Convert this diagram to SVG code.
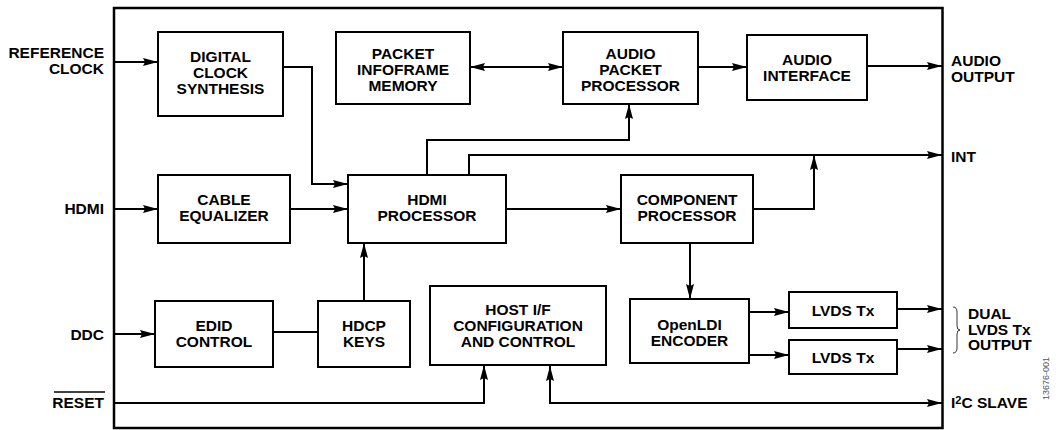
<svg xmlns="http://www.w3.org/2000/svg" width="1059" height="430" viewBox="0 0 1059 430">
<style>
text{font-family:"Liberation Sans",Arial,sans-serif;font-weight:bold;font-size:15.5px;fill:#000}
.c{text-anchor:middle}
.r{text-anchor:end}
.box{fill:#fff;stroke:#000;stroke-width:2}
.ln{fill:none;stroke:#000;stroke-width:2}
.a{marker-end:url(#ah)}
.id{font-weight:normal;font-size:9px;fill:#555}
</style>
<defs>
<marker id="ah" markerWidth="16" markerHeight="10" refX="15" refY="5" orient="auto" markerUnits="userSpaceOnUse"><path d="M0,1 L15,5 L0,9 L2,5 Z" fill="#000"/></marker>
<marker id="as" markerWidth="16" markerHeight="10" refX="1" refY="5" orient="auto" markerUnits="userSpaceOnUse"><path d="M16,1 L1,5 L16,9 L14,5 Z" fill="#000"/></marker>
</defs>
<rect x="0" y="0" width="1059" height="430" fill="#fff"/>
<rect id="frame" x="114" y="8" width="828.5" height="420" fill="none" stroke="#000" stroke-width="2.5"/>

<g id="connectors">
<path class="ln a" d="M114,62 H158"/>
<path class="ln a" d="M114,209 H158"/>
<path class="ln a" d="M114,334 H155"/>
<path class="ln a" d="M283,67 H312 V184 H348"/>
<path class="ln a" d="M290,209 H348"/>
<path class="ln a" marker-start="url(#as)" d="M470,67 H563"/>
<path class="ln a" d="M698,67 H747"/>
<path class="ln a" d="M867,66 H942"/>
<path class="ln a" d="M427,175 V140 H629 V104"/>
<path class="ln a" d="M469,175 V155 H942"/>
<path class="ln a" d="M506,209 H621"/>
<path class="ln a" d="M753,209 H814 V155"/>
<path class="ln a" d="M690,243 V299"/>
<path class="ln a" d="M749,312 H789"/>
<path class="ln a" d="M749,355 H789"/>
<path class="ln a" d="M897,309 H942"/>
<path class="ln a" d="M897,349 H942"/>
<path class="ln" d="M273,332 H318"/>
<path class="ln a" d="M364,301 V243"/>
<path class="ln a" d="M114,403 H484 V365"/>
<path class="ln a" marker-start="url(#as)" d="M550,366 V403 H942"/>
</g>

<g id="dcs"><rect class="box" x="158" y="32" width="125" height="84"/>
<text class="c" x="220.5" y="62">DIGITAL</text><text class="c" x="220.5" y="78">CLOCK</text><text class="c" x="220.5" y="94">SYNTHESIS</text></g>

<g id="pim"><rect class="box" x="336" y="32" width="134" height="72"/>
<text class="c" x="403" y="59">PACKET</text><text class="c" x="403" y="75">INFOFRAME</text><text class="c" x="403" y="91">MEMORY</text></g>

<g id="app"><rect class="box" x="563" y="32" width="135" height="72"/>
<text class="c" x="630.5" y="59">AUDIO</text><text class="c" x="630.5" y="75">PACKET</text><text class="c" x="630.5" y="91">PROCESSOR</text></g>

<g id="ai"><rect class="box" x="747" y="35" width="120" height="65"/>
<text class="c" x="807" y="65">AUDIO</text><text class="c" x="807" y="81">INTERFACE</text></g>

<g id="ce"><rect class="box" x="158" y="175" width="132" height="68"/>
<text class="c" x="224" y="205">CABLE</text><text class="c" x="224" y="221">EQUALIZER</text></g>

<g id="hdmi"><rect class="box" x="348" y="175" width="158" height="68"/>
<text class="c" x="427" y="205">HDMI</text><text class="c" x="427" y="221">PROCESSOR</text></g>

<g id="cp"><rect class="box" x="621" y="175" width="132" height="68"/>
<text class="c" x="687" y="205">COMPONENT</text><text class="c" x="687" y="221">PROCESSOR</text></g>

<g id="edid"><rect class="box" x="155" y="301" width="118" height="66"/>
<text class="c" x="214" y="331">EDID</text><text class="c" x="214" y="347">CONTROL</text></g>

<g id="hdcp"><rect class="box" x="318" y="301" width="92" height="66"/>
<text class="c" x="364" y="331">HDCP</text><text class="c" x="364" y="347">KEYS</text></g>

<g id="host"><rect class="box" x="430" y="286" width="176" height="79"/>
<text class="c" x="518" y="315">HOST I/F</text><text class="c" x="518" y="331">CONFIGURATION</text><text class="c" x="518" y="347">AND CONTROL</text></g>

<g id="oldi"><rect class="box" x="630" y="299" width="119" height="64"/>
<text class="c" x="689.5" y="330">OpenLDI</text><text class="c" x="689.5" y="346">ENCODER</text></g>

<g id="lvds1"><rect class="box" x="789" y="292" width="108" height="36"/>
<text class="c" x="843" y="316">LVDS Tx</text></g>
<g id="lvds2"><rect class="box" x="789" y="340" width="108" height="34"/>
<text class="c" x="843" y="363">LVDS Tx</text></g>

<g id="labels">
<text class="r" x="104" y="58">REFERENCE</text><text class="r" x="104" y="74">CLOCK</text>
<text class="r" x="104" y="214">HDMI</text>
<text class="r" x="104" y="340">DDC</text>
<text class="r" x="104" y="408">RESET</text>
<line x1="54" y1="392" x2="105" y2="392" stroke="#000" stroke-width="1.3"/>
<text x="951" y="66">AUDIO</text><text x="951" y="82">OUTPUT</text>
<text x="951" y="162">INT</text>
<text x="968" y="319">DUAL</text><text x="968" y="335">LVDS Tx</text><text x="968" y="350">OUTPUT</text>
<path d="M953,307 Q957,307 957,312 V326 Q957,330 960,330 Q957,330 957,334 V348 Q957,353 953,353" fill="none" stroke="#000" stroke-width="0.8"/>
<text x="951" y="408">I<tspan font-size="11" dy="-4">2</tspan><tspan dy="4">C SLAVE</tspan></text>
<text class="id" transform="translate(1049,400) rotate(-90)">13676-001</text>
</g>
</svg>
